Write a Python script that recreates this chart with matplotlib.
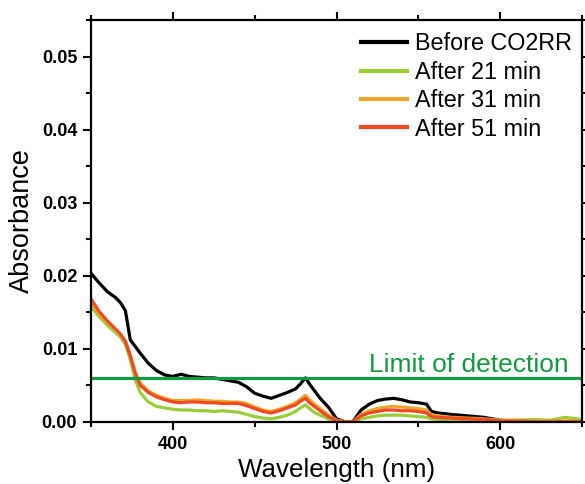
import matplotlib
matplotlib.use("Agg")
import matplotlib.pyplot as plt
from matplotlib.ticker import MultipleLocator, FormatStrFormatter

plt.rcParams['font.family'] = ['Liberation Sans', 'DejaVu Sans']

wavelength = [350, 355, 360, 365, 368, 371, 374, 377, 380, 385, 390, 395, 400, 405, 410,
              415, 420, 425, 430, 435, 440, 445, 450, 455, 460, 465, 470, 475, 478, 481,
              484, 487, 490, 495, 500, 505, 510, 515, 520, 525, 530, 535, 540, 545, 550,
              555, 558, 562, 570, 580, 590, 600, 610, 620, 630, 640, 650]

before = [0.0203, 0.0190, 0.0178, 0.0170, 0.0163, 0.0152, 0.0112, 0.0103, 0.0094, 0.0080,
          0.0070, 0.0064, 0.0062, 0.0065, 0.0062, 0.0061, 0.0060, 0.0060, 0.0058, 0.0056,
          0.0054, 0.0048, 0.0039, 0.0035, 0.0032, 0.0036, 0.0040, 0.0045, 0.0052, 0.0060,
          0.0050, 0.0041, 0.0032, 0.0020, 0.0004, 0.0000, 0.0000, 0.0016, 0.0024, 0.0029,
          0.0031, 0.0032, 0.0030, 0.0027, 0.0026, 0.0024, 0.0014, 0.0012, 0.0010, 0.0008,
          0.0006, 0.0002, 0.0001, 0.0000, 0.0000, 0.0000, 0.0000]

after21 = [0.0157, 0.0144, 0.0132, 0.0122, 0.0116, 0.0106, 0.0085, 0.0058, 0.0040, 0.0027,
           0.0021, 0.0019, 0.0017, 0.0016, 0.0016, 0.0015, 0.0015, 0.0014, 0.0015, 0.0014,
           0.0013, 0.0010, 0.0007, 0.0005, 0.0004, 0.0006, 0.0009, 0.0014, 0.0019, 0.0023,
           0.0017, 0.0012, 0.0009, 0.0004, 0.0001, 0.0000, 0.0000, 0.0004, 0.0006, 0.0008,
           0.0009, 0.0009, 0.0009, 0.0008, 0.0007, 0.0006, 0.0004, 0.0003, 0.0003, 0.0002,
           0.0002, 0.0001, 0.0002, 0.0003, 0.0002, 0.0006, 0.0003]

after31 = [0.0162, 0.0148, 0.0136, 0.0126, 0.0119, 0.0110, 0.0092, 0.0068, 0.0053, 0.0042,
           0.0036, 0.0032, 0.0029, 0.0029, 0.0029, 0.0030, 0.0029, 0.0028, 0.0028, 0.0027,
           0.0027, 0.0025, 0.0020, 0.0016, 0.0014, 0.0017, 0.0021, 0.0026, 0.0031, 0.0036,
           0.0029, 0.0023, 0.0018, 0.0009, 0.0002, 0.0000, 0.0000, 0.0010, 0.0015, 0.0018,
           0.0020, 0.0021, 0.0020, 0.0019, 0.0018, 0.0016, 0.0009, 0.0008, 0.0006, 0.0005,
           0.0004, 0.0002, 0.0002, 0.0001, 0.0001, 0.0001, 0.0001]

after51 = [0.0168, 0.0151, 0.0138, 0.0127, 0.0120, 0.0110, 0.0090, 0.0066, 0.0050, 0.0040,
           0.0034, 0.0030, 0.0027, 0.0026, 0.0027, 0.0027, 0.0026, 0.0026, 0.0025, 0.0025,
           0.0025, 0.0022, 0.0018, 0.0014, 0.0012, 0.0015, 0.0019, 0.0023, 0.0028, 0.0032,
           0.0025, 0.0020, 0.0015, 0.0007, 0.0001, 0.0000, 0.0000, 0.0008, 0.0012, 0.0014,
           0.0016, 0.0016, 0.0015, 0.0015, 0.0014, 0.0012, 0.0007, 0.0006, 0.0005, 0.0004,
           0.0003, 0.0001, 0.0001, 0.0000, 0.0000, 0.0000, 0.0000]

labels = ["Before CO2RR", "After 21 min", "After 31 min", "After 51 min"]
colors = ["#000000", "#9acd3a", "#eba52a", "#f04a24"]
series = [before, after21, after31, after51]
lod_value = 0.006
lod_label = "Limit of detection"

fig = plt.figure(figsize=(5.85, 4.84), dpi=100)
ax = fig.add_axes([0.1556, 0.1287, 0.8393, 0.8300])

for y, c, lab in zip(series, colors, labels):
    ax.plot(wavelength, y, color=c, lw=2.3, label=lab, solid_joinstyle='round')

ax.axhline(lod_value, color="#129a40", lw=2.3)
ax.text(520, 0.0068, lod_label, color="#129a40", fontsize=19, ha='left', va='baseline')

ax.set_xlim(350, 650)
ax.set_ylim(0, 0.055)
ax.xaxis.set_major_locator(MultipleLocator(100))
ax.xaxis.set_minor_locator(MultipleLocator(50))
ax.yaxis.set_major_locator(MultipleLocator(0.01))
ax.yaxis.set_minor_locator(MultipleLocator(0.005))
ax.yaxis.set_major_formatter(FormatStrFormatter('%.2f'))

ax.tick_params(which='both', direction='out', top=True, right=True, width=1.5)
ax.tick_params(which='major', length=6, labelsize=13, pad=4)
ax.tick_params(which='minor', length=3.5)
for lbl in ax.get_xticklabels() + ax.get_yticklabels():
    lbl.set_fontweight('bold')
for s in ax.spines.values():
    s.set_linewidth(1.6)

ax.set_xlabel("Wavelength (nm)", fontsize=18.7, labelpad=4)
ax.set_ylabel("Absorbance", fontsize=19.5, labelpad=5)

leg = ax.legend(loc='upper right', bbox_to_anchor=(0.9796, 0.969), frameon=False,
                fontsize=16.8, handlelength=1.95, handletextpad=0.35, labelspacing=0.23,
                borderaxespad=0, borderpad=0)
for h in leg.get_lines():
    h.set_linewidth(3)

fig.savefig("out.png", dpi=100)
